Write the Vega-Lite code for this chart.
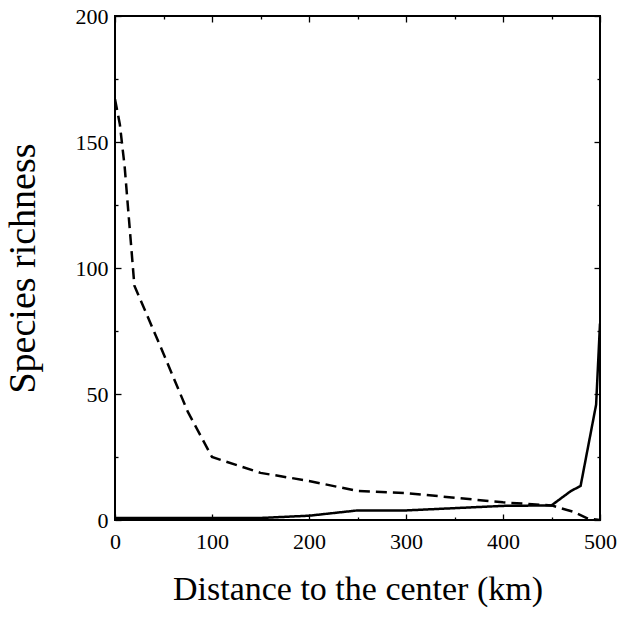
{
  "$schema": "https://vega.github.io/schema/vega-lite/v6.json",
  "autosize": {"type": "none"},
  "padding": {"left": 115, "top": 16, "right": 20, "bottom": 98},
  "width": 485,
  "height": 504,
  "config": {
    "view": {"stroke": "black", "strokeWidth": 2},
    "font": "Liberation Serif",
    "axis": {"grid": false, "domain": false, "tickColor": "black", "labelColor": "black", "titleColor": "black", "labelFont": "Liberation Serif", "titleFont": "Liberation Serif", "titleFontWeight": "normal", "labelFontSize": 22, "tickWidth": 1.3}
  },
  "data": {"values": [
    {"d": 0, "s": 167, "g": "outer"}, {"d": 5, "s": 157, "g": "outer"}, {"d": 10, "s": 140, "g": "outer"}, {"d": 20, "s": 93, "g": "outer"}, {"d": 50, "s": 66, "g": "outer"}, {"d": 75, "s": 43, "g": "outer"}, {"d": 100, "s": 25, "g": "outer"}, {"d": 150, "s": 18.7, "g": "outer"}, {"d": 200, "s": 15.5, "g": "outer"}, {"d": 250, "s": 11.5, "g": "outer"}, {"d": 300, "s": 10.7, "g": "outer"}, {"d": 400, "s": 7, "g": "outer"}, {"d": 450, "s": 5.8, "g": "outer"}, {"d": 472, "s": 3.3, "g": "outer"}, {"d": 488, "s": 0.5, "g": "outer"}, {"d": 500, "s": 0, "g": "outer"},
    {"d": 0, "s": 0.8, "g": "inner"}, {"d": 150, "s": 0.8, "g": "inner"}, {"d": 200, "s": 1.7, "g": "inner"}, {"d": 250, "s": 3.8, "g": "inner"}, {"d": 300, "s": 3.8, "g": "inner"}, {"d": 400, "s": 5.6, "g": "inner"}, {"d": 450, "s": 5.8, "g": "inner"}, {"d": 470, "s": 11.5, "g": "inner"}, {"d": 480, "s": 13.5, "g": "inner"}, {"d": 496, "s": 45.8, "g": "inner"}, {"d": 500, "s": 78, "g": "inner"}
  ]},
  "layer": [
    {
      "mark": {"type": "line", "color": "black", "strokeWidth": 2.5, "clip": true},
      "encoding": {
        "x": {"field": "d", "type": "quantitative", "scale": {"domain": [0, 500], "nice": false},
          "axis": {"orient": "bottom", "title": "Distance to the center (km)", "values": [0, 50, 100, 150, 200, 250, 300, 350, 400, 450, 500], "labelExpr": "datum.value % 100 === 0 ? datum.label : ''",
            "tickSize": {"condition": {"test": "datum.value % 100 === 0", "value": -6}, "value": -3},
            "labelBaseline": "alphabetic", "labelPadding": 34, "labelFlush": false, "labelOverlap": false,
            "titleFontSize": 34, "titleY": 79, "titleBaseline": "alphabetic"}},
        "y": {"field": "s", "type": "quantitative", "scale": {"domain": [0, 200], "nice": false},
          "axis": {"orient": "left", "title": "Species richness", "values": [0, 25, 50, 75, 100, 125, 150, 175, 200], "labelExpr": "datum.value % 50 === 0 ? datum.label : ''",
            "tickSize": {"condition": {"test": "datum.value % 50 === 0", "value": -6}, "value": -3},
            "labelPadding": 13, "labelFlush": false, "labelOverlap": false,
            "titleFontSize": 38, "titleX": -81, "titleBaseline": "alphabetic"}},
        "detail": {"field": "g", "type": "nominal"},
        "strokeDash": {"field": "g", "type": "nominal", "scale": {"domain": ["outer", "inner"], "range": [[11, 6], [1, 0]]}, "legend": null}
      }
    },
    {
      "mark": {"type": "point", "opacity": 0},
      "encoding": {
        "x": {"field": "d", "type": "quantitative", "scale": {"domain": [0, 500], "nice": false},
          "axis": {"orient": "top", "title": null, "labels": false, "values": [0, 50, 100, 150, 200, 250, 300, 350, 400, 450, 500],
            "tickSize": {"condition": {"test": "datum.value % 100 === 0", "value": -6}, "value": -3}}},
        "y": {"field": "s", "type": "quantitative", "scale": {"domain": [0, 200], "nice": false},
          "axis": {"orient": "right", "title": null, "labels": false, "values": [0, 25, 50, 75, 100, 125, 150, 175, 200],
            "tickSize": {"condition": {"test": "datum.value % 50 === 0", "value": -6}, "value": -3}}}
      }
    }
  ],
  "resolve": {"axis": {"x": "independent", "y": "independent"}}
}
